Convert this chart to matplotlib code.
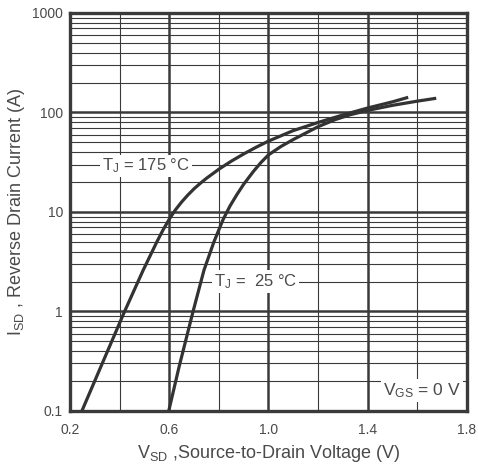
import numpy as np
import matplotlib
matplotlib.use("Agg")
import matplotlib.pyplot as plt
from matplotlib.ticker import FixedLocator, NullFormatter

plt.rcParams['font.family'] = ['Liberation Sans', 'DejaVu Sans']
plt.rcParams['mathtext.default'] = 'regular'

# curves
V_175 = [0.248, 0.33, 0.42, 0.495, 0.55, 0.575, 0.603, 0.625, 0.65, 0.675, 0.70, 0.725,
         0.75, 0.80, 0.85, 0.90, 0.95, 1.0, 1.1, 1.2, 1.3, 1.4, 1.5, 1.563]
I_175 = [0.1, 0.3, 1.0, 2.6, 5.0, 6.6, 8.7, 10.5, 12.6, 14.8, 17.1, 19.4,
         21.8, 26.9, 32.4, 38.3, 44.7, 51.6, 65.8, 79.4, 94.4, 111, 128, 142]
V_25 = [0.598, 0.64, 0.696, 0.74, 0.78, 0.817, 0.845, 0.873, 0.90, 0.94, 0.97, 1.0,
        1.05, 1.1, 1.2, 1.27, 1.33, 1.4, 1.5, 1.6, 1.676]
I_25 = [0.1, 0.28, 1.0, 2.6, 5.0, 8.4, 11.5, 15.0, 19.0, 25.7, 31.5, 37.5,
        45.5, 53.5, 72, 85, 95, 105, 118, 130, 139]

X_TICKS = [0.2, 0.6, 1.0, 1.4, 1.8]
X_MINOR = [0.4, 0.8, 1.2, 1.6]
Y_TICKS = [0.1, 1, 10, 100, 1000]
Y_LABELS = ["0.1", "1", "10", "100", "1000"]

INK = "#3a3a3a"
TXT = "#4a4a4a"

fig = plt.figure(figsize=(4.78, 4.74), dpi=100)
ax = fig.add_axes([0.1464, 0.133, 0.8306, 0.8396])
ax.set_yscale("log")
ax.set_xlim(0.2, 1.8)
ax.set_ylim(0.1, 1000)

ax.xaxis.set_major_locator(FixedLocator(X_TICKS))
ax.xaxis.set_minor_locator(FixedLocator(X_MINOR))
ax.yaxis.set_major_locator(FixedLocator(Y_TICKS))
minor_y = [m * 10.0**d for d in range(-1, 3) for m in range(2, 10)]
ax.yaxis.set_minor_locator(FixedLocator(minor_y))
ax.yaxis.set_minor_formatter(NullFormatter())
ax.set_xticklabels([f"{v:.1f}" for v in X_TICKS])
ax.set_yticklabels(Y_LABELS)

ax.grid(which="major", color=INK, lw=1.8)
ax.grid(which="minor", color=INK, lw=0.8)
ax.tick_params(which="both", length=0, colors=TXT, labelsize=10)
ax.tick_params(axis="x", pad=9)
ax.tick_params(axis="y", pad=5)
for s in ax.spines.values():
    s.set_linewidth(2.4)
    s.set_color(INK)

ax.plot(V_175, I_175, color="#333333", lw=2.3, solid_capstyle="butt", zorder=3)
ax.plot(V_25, I_25, color="#333333", lw=2.3, solid_capstyle="butt", zorder=3)

box = dict(facecolor="white", edgecolor="none", pad=1.5)
ax.text(0.33, 29, "T$_J$ = 175 °C", fontsize=12, color=TXT, va="center", bbox=box, zorder=4)
ax.text(0.78, 2.0, "T$_J$ =  25 °C", fontsize=12, color=TXT, va="center", bbox=box, zorder=4)
ax.text(1.775, 0.16, "V$_{GS}$ = 0 V", fontsize=12.5, color=TXT, ha="right", va="center",
        bbox=box, zorder=4)

ax.set_xlabel("V$_{SD}$ ,Source-to-Drain Voltage (V)", fontsize=13, color=TXT, labelpad=4)
ax.set_ylabel("I$_{SD}$ , Reverse Drain Current (A)", fontsize=13, color=TXT, labelpad=4)

fig.savefig("out.png", dpi=100)
